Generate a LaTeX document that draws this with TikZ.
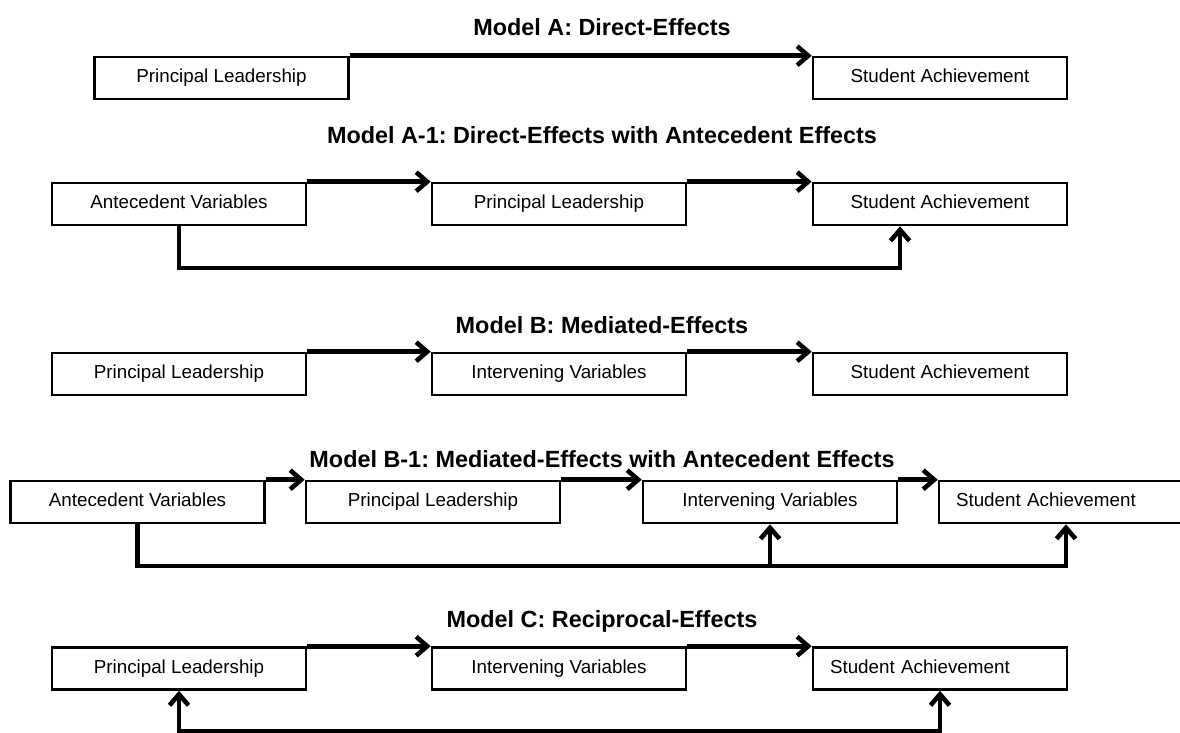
\documentclass[tikz,border=0pt]{standalone}
\usepackage{fontspec}
\setmainfont{Liberation Sans}
\usetikzlibrary{arrows.meta}
\frenchspacing
\tikzset{
  box/.style={draw=black, line width=2.6pt, minimum width=254pt, minimum height=42pt, inner sep=0pt,
    font=\fontsize{18.8}{22}\selectfont, text=black, text height=13.6pt, text depth=3.8pt},
  boxl/.style={box, text width=220pt, inner xsep=17pt, align=left},
  ttl/.style={font=\fontsize{23.4}{28}\selectfont\bfseries, text=black},
  conn/.style={line width=4.6pt, -{Straight Barb[length=11pt,width=19pt]}},
  both/.style={line width=4.6pt, {Straight Barb[length=11pt,width=19pt]}-{Straight Barb[length=11pt,width=19pt]}}
}
\begin{document}
\begin{tikzpicture}[x=1pt,y=-1pt]
\clip (0,0) rectangle (1180,733);
\fill[white] (0,0) rectangle (1180,733);

% Model A
\node[ttl] (tA) at (602,27) {Model A: Direct-Effects};
\node[box] (pl1) at (221.5,78) {Principal Leadership};
\node[box] (sa1) at (940,78) {Student Achievement};
\draw[conn] (pl1.north east) -- (sa1.north west);

% Model A-1
\node[ttl] (tA1) at (602,135) {Model A-1: Direct-Effects with Antecedent Effects};
\node[box] (av2) at (179,204) {Antecedent Variables};
\node[box] (pl2) at (559,204) {Principal Leadership};
\node[box] (sa2) at (940,204) {Student Achievement};
\draw[conn] (av2.north east) -- (pl2.north west);
\draw[conn] (pl2.north east) -- (sa2.north west);
\coordinate (a1y) at (0,268);
\coordinate (a1e) at ([xshift=-40pt]sa2.south);
\draw[conn] (av2.south) -- (av2.south |- a1y) -| (a1e);

% Model B
\node[ttl] (tB) at (602,325) {Model B: Mediated-Effects};
\node[box] (pl3) at (179,374) {Principal Leadership};
\node[box] (iv3) at (559,374) {Intervening Variables};
\node[box] (sa3) at (940,374) {Student Achievement};
\draw[conn] (pl3.north east) -- (iv3.north west);
\draw[conn] (iv3.north east) -- (sa3.north west);

% Model B-1
\node[ttl] (tB1) at (602,459) {Model B-1: Mediated-Effects with Antecedent Effects};
\node[box] (av4) at (137.5,502) {Antecedent Variables};
\node[box] (pl4) at (433,502) {Principal Leadership};
\node[box] (iv4) at (770,502) {Intervening Variables};
\node[boxl] (sa4) at (1066,502) {Student Achievement};
\draw[conn] (av4.north east) -- (pl4.north west);
\draw[conn] (pl4.north east) -- (iv4.north west);
\draw[conn] (iv4.north east) -- (sa4.north west);
\coordinate (b1y) at (0,566);
\draw[conn] (av4.south) -- (av4.south |- b1y) -| (sa4.south);
\draw[conn] (iv4.south |- b1y) -- (iv4.south);

% Model C
\node[ttl] (tC) at (602,621) {Model C: Reciprocal-Effects};
\node[box] (pl5) at (179,668.5) {Principal Leadership};
\node[box] (iv5) at (559,668.5) {Intervening Variables};
\node[boxl] (sa5) at (940,668.5) {Student Achievement};
\draw[conn] (pl5.north east) -- (iv5.north west);
\draw[conn] (iv5.north east) -- (sa5.north west);
\coordinate (cy) at (0,731.5);
\draw[both] (pl5.south) -- (pl5.south |- cy) -| (sa5.south);
\end{tikzpicture}
\end{document}
